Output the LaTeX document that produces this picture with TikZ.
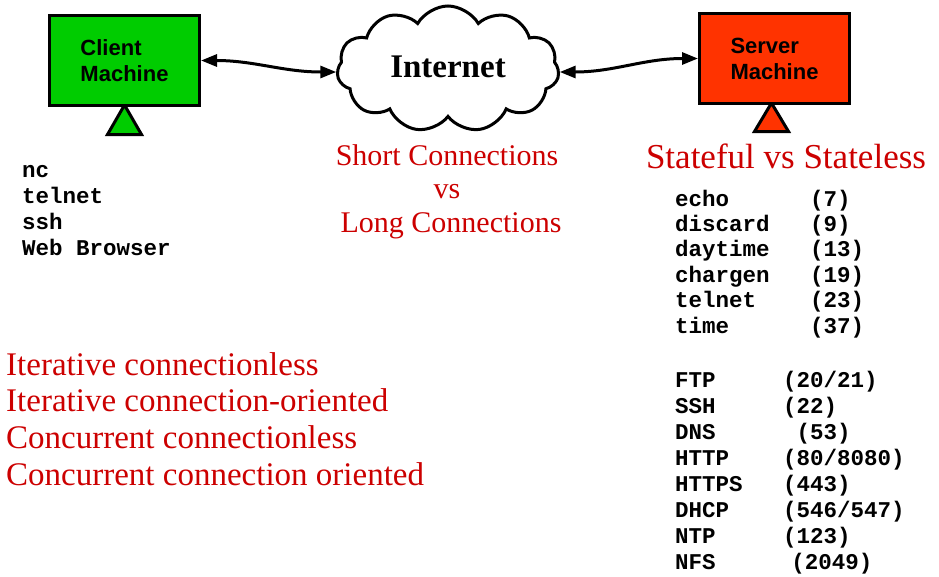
\documentclass[tikz,border=0pt]{standalone}
\usepackage{fontspec}
\setmainfont{Liberation Serif}
\setsansfont{Liberation Sans}
\setmonofont{Liberation Mono}
\usetikzlibrary{shapes.symbols,arrows.meta}
\definecolor{clientgreen}{HTML}{00CC00}
\definecolor{serverred}{HTML}{FF3300}
\definecolor{notered}{HTML}{CC0000}
\begin{document}
\begin{tikzpicture}[x=1pt,y=-1pt,
  machine/.style={draw,line width=3pt,minimum width=150pt,minimum height=90pt,inner sep=0pt,align=left,font=\sffamily\bfseries\fontsize{22}{26}\selectfont},
  stand/.style={draw,line width=3pt,line join=miter},
  link/.style={line width=3pt,{Triangle[length=16pt,width=12pt]}-{Triangle[length=16pt,width=12pt]}},
  note/.style={text=notered,anchor=base,inner sep=0pt,font=\fontsize{#1}{#1}\selectfont},
  mono/.style={anchor=base west,inner sep=0pt,font=\ttfamily\bfseries\fontsize{22.5}{26}\selectfont}]
\useasboundingbox (0,0) rectangle (939,576);
\draw[stand,fill=clientgreen] (124.5,105) -- ++(-17,29.5) -- ++(34,0) -- cycle;
\draw[stand,fill=serverred] (771.5,103) -- ++(-17,28.5) -- ++(34,0) -- cycle;
\node[machine,fill=clientgreen] (client) at (124.5,60.5) {Client\\Machine};
\node[machine,fill=serverred] (server) at (774.5,58.5) {Server\\Machine};
\node[cloud,cloud puffs=11,cloud puff arc=120,cloud ignores aspect,draw,line width=3pt,fill=white,minimum width=222pt,minimum height=126pt] (inet) at (448,69) {};
\node[anchor=base,font=\bfseries\fontsize{33}{33}\selectfont] (inetlabel) at (448,77) {Internet};
\draw[link] (client.east) to[out=0,in=180] ([yshift=-3pt]inet.west);
\draw[link] ([yshift=-3pt]inet.east) to[out=0,in=180] (server.west);
\node[note=30] (short) at (447,165) {Short Connections};
\node[note=30] (vs) at (447,198) {vs};
\node[note=30] (long) at (451,232) {Long Connections};
\node[note=35] (stateful) at (786,168) {Stateful vs Stateless};
\foreach \txt [count=\i] in {Iterative connectionless,Iterative connection-oriented,Concurrent connectionless,Concurrent connection oriented}
  \node[note=33,anchor=base west] (mode\i) at (6,{375+36.7*(\i-1)}) {\txt};
\foreach \tool [count=\i] in {nc,telnet,ssh,Web Browser}
  \node[mono] (tool\i) at (22,{177+26*(\i-1)}) {\tool};
\foreach \svc/\port/\col [count=\i] in {echo/7/10,discard/9/10,daytime/13/10,chargen/19/10,telnet/23/10,time/37/10}{
  \node[mono] (svc\i) at (675,{206+25.4*(\i-1)}) {\svc};
  \node[mono] (port\i) at ({675+13.5*\col},{206+25.4*(\i-1)}) {(\port)};
}
\foreach \proto/\num/\col [count=\i] in {FTP/{20/21}/8,SSH/22/8,DNS/53/9,HTTP/{80/8080}/8,HTTPS/443/8,DHCP/{546/547}/8,NTP/123/8,NFS/2049/8.6}{
  \node[mono] (proto\i) at (675,{387+26*(\i-1)}) {\proto};
  \node[mono] (pnum\i) at ({675+13.5*\col},{387+26*(\i-1)}) {(\num)};
}
\end{tikzpicture}
\end{document}
